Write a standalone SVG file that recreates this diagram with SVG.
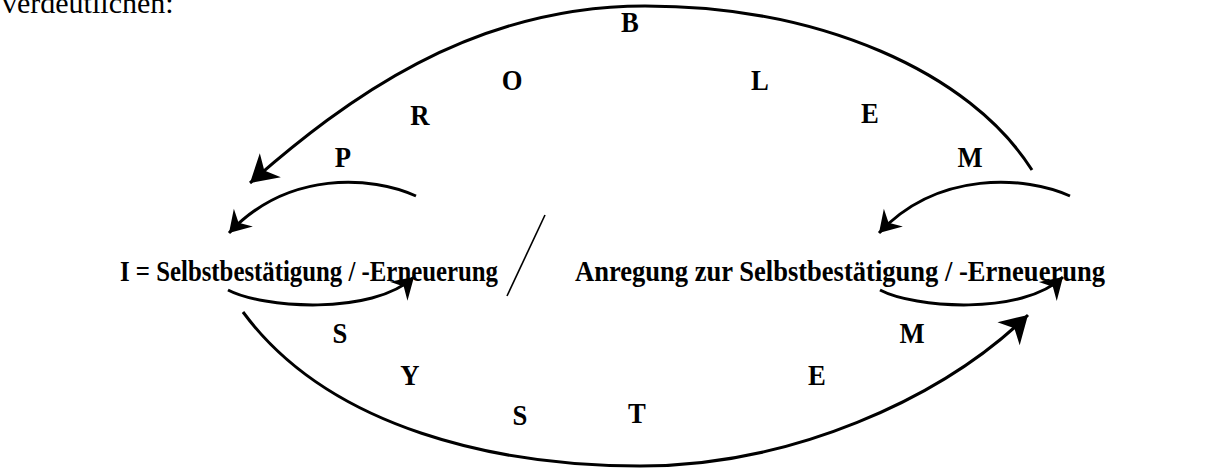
<svg xmlns="http://www.w3.org/2000/svg" width="1229" height="468" viewBox="0 0 1229 468">
  <style>
    .lbl { font-family: "Liberation Serif", "Times New Roman", serif; font-weight: bold; font-size: 29px; fill: #000; }
    .ltr { font-family: "Liberation Serif", "Times New Roman", serif; font-weight: bold; font-size: 29px; fill: #000; text-anchor: middle; }
    .body { font-family: "Liberation Serif", "Times New Roman", serif; font-size: 30px; fill: #000; }
    .arc { fill: none; stroke: #000; stroke-width: 3; }
    .sep { fill: none; stroke: #000; stroke-width: 1.6; }
  </style>
  <defs>
    <marker id="bigHead" markerUnits="userSpaceOnUse" markerWidth="40" markerHeight="40" viewBox="-30 -20 34 40" refX="0" refY="0" orient="auto">
      <path d="M0,0 L-27,-16 L-19,0 L-27,16 Z" fill="#000"/>
    </marker>
    <marker id="smallHead" markerUnits="userSpaceOnUse" markerWidth="30" markerHeight="30" viewBox="-24 -15 26 30" refX="0" refY="0" orient="auto">
      <path d="M0,0 L-21,-13 L-14,0 L-21,13 Z" fill="#000"/>
    </marker>
  </defs>

  <!-- running text above the figure -->
  <text class="body" x="2" y="13">verdeutlichen:</text>

  <!-- connectors -->
  <g id="connectors">
    <!-- PROBLEM arc, right to left -->
    <path class="arc" d="M1032,170 C970,72 820,6 645,6 C470,6 345,100 250,183" marker-end="url(#bigHead)"/>
    <!-- SYSTEM arc, left to right -->
    <path class="arc" d="M243,312 C330,430 500,466 640,466 C790,466 940,400 1028,315" marker-end="url(#bigHead)"/>
    <!-- small loops, left statement -->
    <path class="arc" d="M416,196 C372,176 288,170 229,233" marker-end="url(#smallHead)"/>
    <path class="arc" d="M228,290 C262,308 372,316 414,277" marker-end="url(#smallHead)"/>
    <!-- small loops, right statement -->
    <path class="arc" d="M1070,196 C1026,176 938,170 879,233" marker-end="url(#smallHead)"/>
    <path class="arc" d="M880,290 C914,308 1022,316 1063,277" marker-end="url(#smallHead)"/>
    <!-- divider between the two statements -->
    <line class="sep" x1="545" y1="215" x2="507" y2="296"/>
  </g>

  <!-- statements -->
  <g id="node-self">
    <text class="lbl" x="120" y="281" textLength="378" lengthAdjust="spacingAndGlyphs">I = Selbstbestätigung / -Erneuerung</text>
  </g>
  <g id="node-stimulus">
    <text class="lbl" x="575" y="281" textLength="530" lengthAdjust="spacingAndGlyphs">Anregung zur Selbstbestätigung / -Erneuerung</text>
  </g>

  <!-- letters along the upper arc -->
  <g id="word-problem">
    <text class="ltr" transform="translate(343,167) scale(0.92,1)">P</text>
    <text class="ltr" transform="translate(420,125) scale(0.92,1)">R</text>
    <text class="ltr" transform="translate(512,90) scale(0.92,1)">O</text>
    <text class="ltr" transform="translate(630,32) scale(0.92,1)">B</text>
    <text class="ltr" transform="translate(760,90) scale(0.92,1)">L</text>
    <text class="ltr" transform="translate(870,123) scale(0.92,1)">E</text>
    <text class="ltr" transform="translate(970,167) scale(0.92,1)">M</text>
  </g>

  <!-- letters along the lower arc -->
  <g id="word-system">
    <text class="ltr" transform="translate(340,343) scale(0.92,1)">S</text>
    <text class="ltr" transform="translate(410,385) scale(0.92,1)">Y</text>
    <text class="ltr" transform="translate(520,425) scale(0.92,1)">S</text>
    <text class="ltr" transform="translate(637,423) scale(0.92,1)">T</text>
    <text class="ltr" transform="translate(817,385) scale(0.92,1)">E</text>
    <text class="ltr" transform="translate(912,343) scale(0.92,1)">M</text>
  </g>
</svg>
